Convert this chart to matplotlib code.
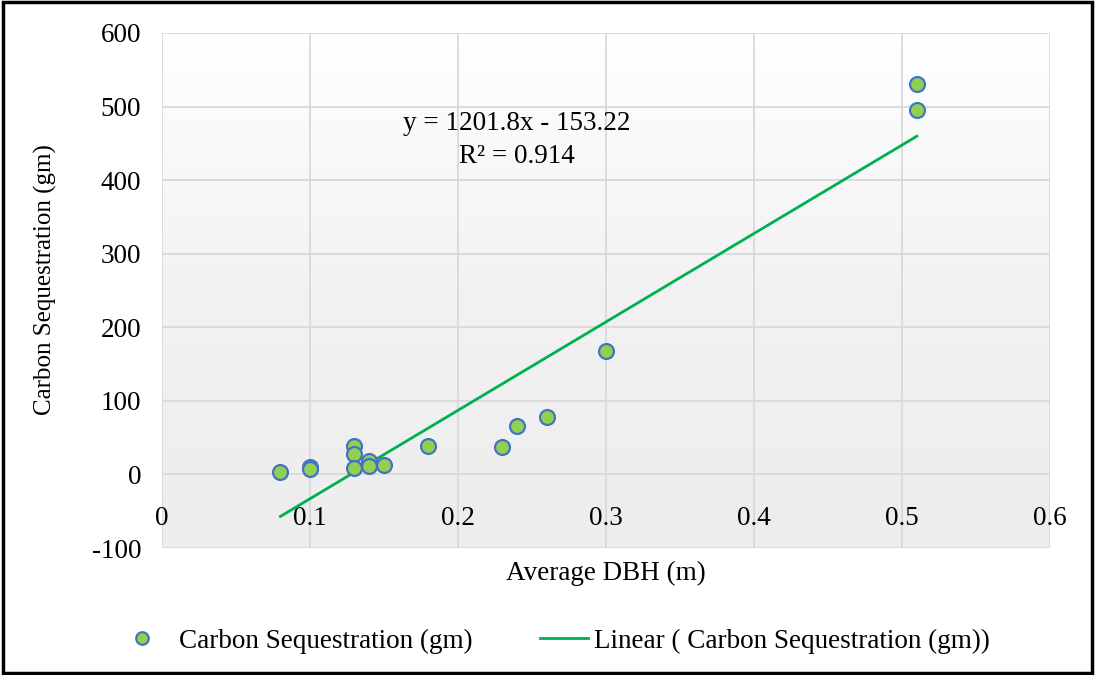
import numpy as np
import matplotlib.pyplot as plt
from matplotlib.lines import Line2D
from matplotlib.colors import LinearSegmentedColormap

plt.rcParams['font.family'] = ['Liberation Serif', 'DejaVu Serif']
plt.rcParams['axes.unicode_minus'] = False

# data
dbh = [0.08, 0.10, 0.10, 0.13, 0.13, 0.13, 0.14, 0.14, 0.15, 0.18, 0.23, 0.24, 0.26, 0.30, 0.51, 0.51]
carbon = [3, 10, 7, 38.5, 28, 9, 18, 11, 12.5, 38.5, 37, 66, 78, 167.5, 531, 496]
slope, intercept = 1201.8, -153.22
r2 = 0.914
xticks = [0, 0.1, 0.2, 0.3, 0.4, 0.5, 0.6]
xlabels = ['0', '0.1', '0.2', '0.3', '0.4', '0.5', '0.6']
yticks = [-100, 0, 100, 200, 300, 400, 500, 600]

FS = 19.5

fig = plt.figure(figsize=(10.95, 6.75), dpi=100)
ax = fig.add_axes([162 / 1095, 1 - 548 / 675, (1050 - 162) / 1095, (548 - 33) / 675])

# plot area gradient, light grey at bottom to white at top
grad = np.linspace(0, 1, 256).reshape(-1, 1)
cmap = LinearSegmentedColormap.from_list('g', ['#ededed', '#f2f2f2', '#ffffff'])
ax.imshow(grad, extent=[0, 0.6, -100, 600], aspect='auto', cmap=cmap, origin='lower', zorder=0)

ax.set_xlim(0, 0.6)
ax.set_ylim(-100, 600)
ax.set_xticks(xticks)
ax.set_xticklabels(xlabels)
ax.set_yticks(yticks)
ax.grid(True, color='#d9d9d9', lw=1.3, zorder=1)
for s in ax.spines.values():
    s.set_visible(False)
ax.spines['bottom'].set_position(('data', 0))
ax.tick_params(length=0, labelsize=FS)
ax.tick_params(axis='x', pad=23)
ax.tick_params(axis='y', pad=15)

xs = np.array([min(dbh), max(dbh)])
ax.plot(xs, slope * xs + intercept, color='#00b050', lw=2, zorder=2)
ax.scatter(dbh, carbon, s=115, color='#92d050', edgecolor='#4472c4', linewidth=1.6, zorder=3)

ax.text(0.240, 494, f'y = {slope}x - {-intercept}\nR² = {r2}', ha='center', va='top', fontsize=FS,
        linespacing=1.4)

fig.text(606 / 1095, 1 - 573 / 675, 'Average DBH (m)', ha='center', va='center', fontsize=FS)
fig.text(45 / 1095, 1 - 280 / 675, 'Carbon Sequestration (gm)', ha='center', va='center',
         rotation=90, fontsize=18)

h1 = Line2D([], [], ls='none', marker='o', ms=9, mfc='#92d050', mec='#4472c4', mew=1.6)
h2 = Line2D([], [], color='#00b050', lw=2)
fig.legend([h1], ['Carbon Sequestration (gm)'], loc='center left',
           bbox_to_anchor=(128 / 1095, 1 - 641 / 675), frameon=False, fontsize=FS,
           handlelength=1.0, handletextpad=0.9, borderpad=0, borderaxespad=0)
fig.legend([h2], ['Linear ( Carbon Sequestration (gm))'], loc='center left',
           bbox_to_anchor=(540 / 1095, 1 - 641 / 675), frameon=False, fontsize=FS,
           handlelength=1.78, handletextpad=0.2, borderpad=0, borderaxespad=0)

# outer border
fig.patches.append(plt.Rectangle((0.003, 0.003), 0.994, 0.994, transform=fig.transFigure,
                                 fill=False, edgecolor='black', lw=2.5))

fig.savefig('out.png', dpi=100)
